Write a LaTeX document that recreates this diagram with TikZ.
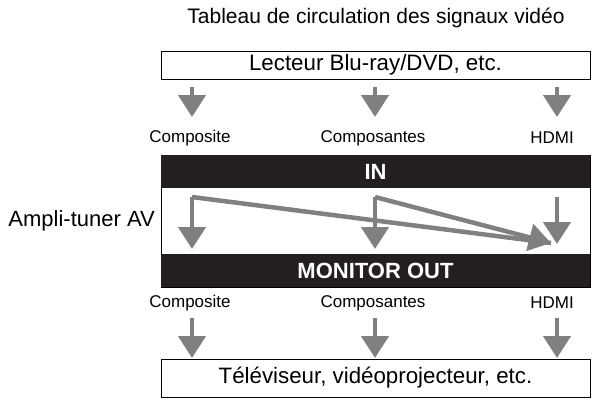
\documentclass[tikz,border=0pt]{standalone}
\usepackage{fontspec}
\setmainfont{Liberation Sans}
\usetikzlibrary{arrows.meta}
\definecolor{arrowgray}{RGB}{128,128,128}
\definecolor{bandblack}{RGB}{35,31,32}
\tikzset{
  sig/.style={draw=arrowgray, line width=4.5pt, -{Triangle[width=27pt,length=22pt]}},
  devbox/.style={draw=black, line width=0.8pt, minimum width=429pt, inner sep=0pt, font=\fontsize{22.3}{26}\selectfont},
  band/.style={fill=bandblack, minimum width=429pt, minimum height=33pt, inner sep=0pt, text=white, font=\bfseries\fontsize{22}{26}\selectfont},
  lab/.style={font=\fontsize{17}{20}\selectfont, inner sep=0pt},
  ttl/.style={font=\fontsize{21}{25}\selectfont, inner sep=0pt}
}
\begin{document}
\begin{tikzpicture}[x=1pt,y=-1pt]
\useasboundingbox (0,0) rectangle (596,404);
% title
\node[ttl] (title) at (376,18) {Tableau de circulation des signaux vidéo};
% source box
\node[devbox, minimum height=28pt] (src) at (375.5,65) {Lecteur Blu-ray/DVD, etc.};
% top arrows
\coordinate (s1) at (192,87); \coordinate (t1) at (192,117);
\coordinate (s2) at (375,87); \coordinate (t2) at (375,117);
\coordinate (s3) at (557,87); \coordinate (t3) at (557,117);
\draw[sig] (s1) -- (t1);
\draw[sig] (s2) -- (t2);
\draw[sig] (s3) -- (t3);
% input labels
\node[lab] (in1) at (190,138) {Composite};
\node[lab] (in2) at (373,138) {Composantes};
\node[lab] (in3) at (552,138) {HDMI};
% amp
\node[draw=black, line width=0.8pt, minimum width=429pt, minimum height=132pt, inner sep=0pt] (amp) at (375.5,221) {};
\node[band] (inband) at (375.5,171.5) {IN};
\node[band] (outband) at (375.5,270.5) {MONITOR OUT};
\node[font=\fontsize{22}{26}\selectfont, inner sep=0pt, anchor=east] (amplab) at (155,221) {Ampli-tuner AV};
% internal routing
\coordinate (a1) at (192,197); \coordinate (b1) at (192,249);
\coordinate (a2) at (375,197); \coordinate (b2) at (375,249);
\coordinate (a3) at (557,197); \coordinate (b3) at (557,244);
\coordinate (hd) at (551,243);
\draw[sig] (a1) -- (b1);
\draw[sig] (a2) -- (b2);
\draw[sig] (a3) -- (b3);
\draw[draw=arrowgray, line width=4.5pt, line join=miter] (a1) -- (hd);
\draw[sig, line join=miter] (a2) -- (hd);
% output labels
\node[lab] (out1) at (190,303) {Composite};
\node[lab] (out2) at (373,303) {Composantes};
\node[lab] (out3) at (552,303) {HDMI};
% bottom arrows
\coordinate (u1) at (192,318); \coordinate (v1) at (192,358);
\coordinate (u2) at (375,318); \coordinate (v2) at (375,358);
\coordinate (u3) at (557,318); \coordinate (v3) at (557,358);
\draw[sig] (u1) -- (v1);
\draw[sig] (u2) -- (v2);
\draw[sig] (u3) -- (v3);
% display box
\node[devbox, minimum height=38pt] (dst) at (375.5,378) {Téléviseur, vidéoprojecteur, etc.};
\end{tikzpicture}
\end{document}
